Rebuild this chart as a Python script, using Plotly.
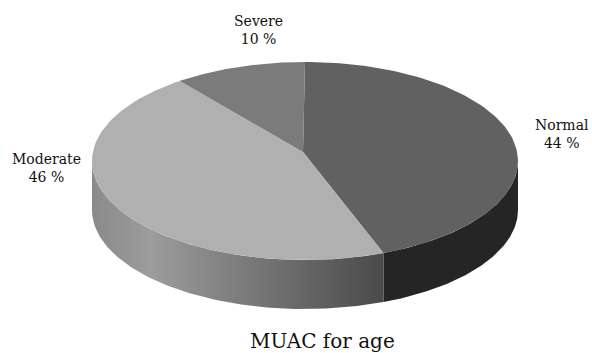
import numpy as np
import plotly.graph_objects as go

# MUAC-for-age distribution (percent of children)
categories = ["Normal", "Moderate", "Severe"]
shares = [44, 46, 10]
top_colors = ["#616161", "#b0b0b0", "#7b7b7b"]
side_colors = ["#252525", "#777777", "#5a5a5a"]
chart_title = "MUAC for age"

# Geometry of the tilted pie (in page pixels)
W, H = 592, 353
CX, CY, RX, RY, DEPTH = 305, 161, 213, 99, 49
APEX = (303, 152)
FONT = "DejaVu Serif"


def ellipse_pts(a0, a1, dy=0.0, n=120):
    t = np.radians(np.linspace(a0, a1, n))
    return CX + RX * np.cos(t), CY - RY * np.sin(t) + dy


fig = go.Figure()

# slice angle spans, clockwise from 12 o'clock
total = float(sum(shares))
spans = []
start = 90.0
for s in shares:
    end = start - 360.0 * s / total
    spans.append((start, end))
    start = end

# visible side walls (front half of the ellipse) drawn first
for i, (a0, a1) in enumerate(spans):
    hi, lo = a0, a1
    for shift in (0, -360, 360):
        vlo, vhi = max(lo, -180 + shift), min(hi, 0 + shift)
        if vhi <= vlo:
            continue
        xt, yt = ellipse_pts(vlo, vhi)
        xb, yb = ellipse_pts(vhi, vlo, dy=DEPTH)
        xs = np.concatenate([xt, xb, xt[:1]])
        ys = np.concatenate([yt, yb, yt[:1]])
        kw = dict(fillcolor=side_colors[i])
        if categories[i] == "Moderate":
            kw = dict(fillgradient=dict(
                type="horizontal",
                colorscale=[[0, "#8a8a8a"], [0.2, "#9c9c9c"], [1, "#4a4a4a"]]))
        fig.add_trace(go.Scatter(x=xs, y=ys, mode="lines", fill="toself",
                                 line=dict(width=0), hoverinfo="skip",
                                 showlegend=False, **kw))

# top faces
for i, (a0, a1) in enumerate(spans):
    xa, ya = ellipse_pts(a0, a1)
    xs = np.concatenate([[APEX[0]], xa, [APEX[0]]])
    ys = np.concatenate([[APEX[1]], ya, [APEX[1]]])
    fig.add_trace(go.Scatter(x=xs, y=ys, mode="lines", fill="toself",
                             fillcolor=top_colors[i], line=dict(width=0),
                             hoverinfo="text", text=f"{categories[i]}: {shares[i]} %",
                             showlegend=False))

# data labels
label_pos = {"Normal": (562, 134), "Moderate": (46, 168), "Severe": (258, 30)}
for name, val in zip(categories, shares):
    x, y = label_pos[name]
    fig.add_annotation(x=x, y=y, text=f"{name}<br>{val} %", showarrow=False,
                       font=dict(family=FONT, size=14, color="#111"),
                       xanchor="center", yanchor="middle")

fig.add_annotation(x=322, y=341, text=chart_title, showarrow=False,
                   font=dict(family=FONT, size=20, color="#111"),
                   xanchor="center", yanchor="middle")

fig.update_layout(
    width=W, height=H, margin=dict(l=0, r=0, t=0, b=0),
    paper_bgcolor="white", plot_bgcolor="white",
    font=dict(family=FONT),
    xaxis=dict(range=[0, W], visible=False, fixedrange=True),
    yaxis=dict(range=[H, 0], visible=False, fixedrange=True),
)

fig.write_html("out.html")
